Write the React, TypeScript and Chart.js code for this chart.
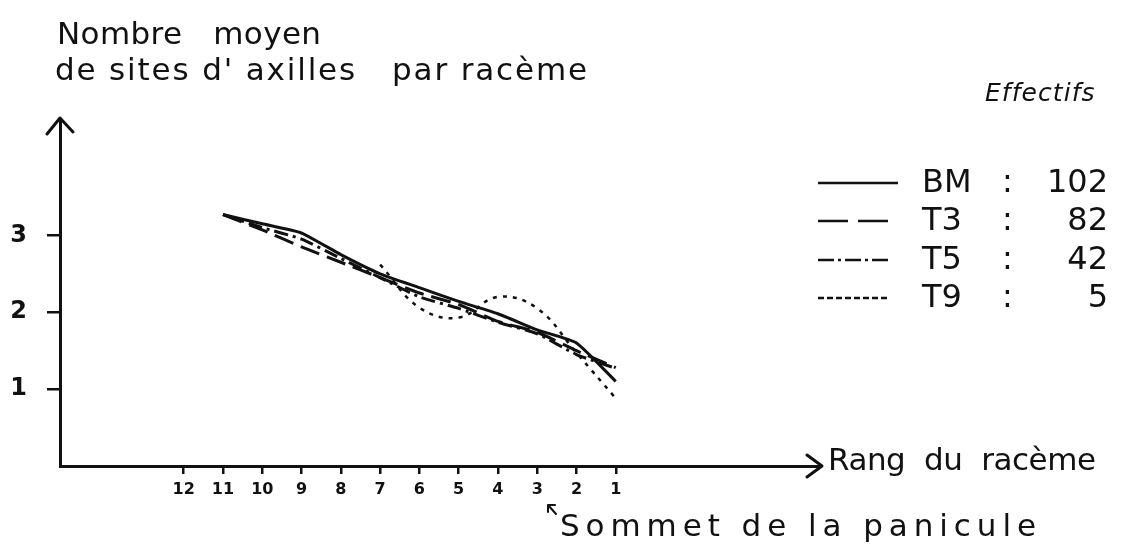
import React, { useEffect, useRef } from "react";
import { Chart, registerables } from "chart.js";

Chart.register(...registerables);

// Rang du racème (1 = sommet de la panicule)
const ranks = [11, 10, 9, 8, 7, 6, 5, 4, 3, 2, 1];
const xTickValues = [12, 11, 10, 9, 8, 7, 6, 5, 4, 3, 2, 1];
const yTickValues = [1, 2, 3];

// Nombre moyen de sites d'axilles par racème
const bmValues = [3.27, 3.15, 3.03, 2.75, 2.5, 2.32, 2.14, 1.98, 1.77, 1.6, 1.1];
const t3Values = [3.27, 3.07, 2.85, 2.65, 2.45, 2.25, 2.1, 1.88, 1.74, 1.5, 1.28];
const t5Values = [3.27, 3.1, 2.95, 2.7, 2.45, 2.2, 2.05, 1.87, 1.72, 1.45, 1.27];
const t9Values = [null, null, null, null, 2.62, 2.06, 1.93, 2.2, 2.05, 1.47, 0.88];

const seriesNames = ["BM", "T3", "T5", "T9"];
const effectifs = ["102", "82", "42", "5"];

const INK = "#111111";
const FONT = "'DejaVu Sans'";

function pts(values: (number | null)[]) {
  return ranks.map((r, i) => ({ x: r, y: values[i] }));
}

function drawFit(ctx: CanvasRenderingContext2D, text: string, x: number, y: number, width: number, font: string) {
  ctx.save();
  ctx.font = font;
  (ctx as any).letterSpacing = "0px";
  const w = ctx.measureText(text).width;
  const ls = text.length > 1 ? (width - w) / (text.length - 1) : 0;
  (ctx as any).letterSpacing = ls + "px";
  ctx.fillStyle = INK;
  ctx.textBaseline = "alphabetic";
  ctx.textAlign = "left";
  ctx.fillText(text, x, y);
  ctx.restore();
}

const decorPlugin = {
  id: "decor",
  afterDraw(chart: any) {
    const ctx: CanvasRenderingContext2D = chart.ctx;
    const area = chart.chartArea;
    ctx.save();
    ctx.strokeStyle = INK;
    ctx.lineWidth = 3;
    ctx.lineCap = "round";
    ctx.lineJoin = "round";
    // y arrow head
    ctx.beginPath();
    ctx.moveTo(area.left - 13, area.top + 14);
    ctx.lineTo(area.left, area.top - 2);
    ctx.lineTo(area.left + 13, area.top + 12);
    ctx.stroke();
    // x arrow head
    ctx.beginPath();
    ctx.moveTo(area.right - 13, area.bottom - 11);
    ctx.lineTo(area.right + 2, area.bottom);
    ctx.lineTo(area.right - 13, area.bottom + 11);
    ctx.stroke();

    // titles
    drawFit(ctx, "Nombre   moyen", 57, 44, 264, `31px ${FONT}`);
    drawFit(ctx, "de sites d' axilles   par racème", 55, 80, 532, `31px ${FONT}`);
    drawFit(ctx, "Rang  du  racème", 828, 470, 268, `31px ${FONT}`);
    drawFit(ctx, "Sommet de la panicule", 560, 536, 476, `31px ${FONT}`);
    // small arrow before "Sommet"
    ctx.lineWidth = 2;
    ctx.beginPath();
    ctx.moveTo(556, 514);
    ctx.lineTo(548, 505);
    ctx.moveTo(548, 505);
    ctx.lineTo(548, 512);
    ctx.moveTo(548, 505);
    ctx.lineTo(555, 505);
    ctx.stroke();

    // legend
    drawFit(ctx, "Effectifs", 985, 101, 110, `italic 25px ${FONT}`);

    const rowY = [183, 221, 260, 298];
    chart.data.datasets.forEach((ds: any, i: number) => {
      const y = rowY[i];
      ctx.save();
      ctx.strokeStyle = INK;
      ctx.lineWidth = 2.5;
      ctx.lineCap = "butt";
      ctx.setLineDash(ds.legendDash || []);
      ctx.beginPath();
      ctx.moveTo(818, y);
      ctx.lineTo(i === 0 ? 898 : 890, y);
      ctx.stroke();
      ctx.restore();
      ctx.font = `32px ${FONT}`;
      ctx.fillStyle = INK;
      ctx.textAlign = "left";
      ctx.fillText(seriesNames[i], 922, y + 9);
      ctx.fillText(":", 1002, y + 9);
      ctx.textAlign = "right";
      ctx.fillText(effectifs[i], 1108, y + 9);
    });
    ctx.restore();
  },
};

export default function App() {
  const ref = useRef<HTMLCanvasElement | null>(null);
  useEffect(() => {
    if (!ref.current) return;
    const common = {
      borderColor: INK,
      borderWidth: 3,
      pointRadius: 0,
      fill: false,
      spanGaps: false,
    };
    const chart = new Chart(ref.current, {
      type: "line",
      data: {
        datasets: [
          { ...common, label: "BM", data: pts(bmValues), tension: 0.15, borderDash: [], legendDash: [] } as any,
          { ...common, label: "T3", data: pts(t3Values), tension: 0.2, borderDash: [20, 8], legendDash: [30, 10] } as any,
          { ...common, label: "T5", data: pts(t5Values), tension: 0.2, borderDash: [14, 5, 3, 5], legendDash: [16, 4, 3, 4] } as any,
          { ...common, label: "T9", data: pts(t9Values), tension: 0.4, borderDash: [4, 6], borderWidth: 2.5, legendDash: [6, 3] } as any,
        ],
      },
      options: {
        responsive: false,
        animation: false,
        layout: { padding: { top: 120, right: 305, left: 0, bottom: 0 } },
        plugins: {
          legend: { display: false },
          tooltip: { enabled: false },
          title: { display: false },
        },
        scales: {
          x: {
            type: "linear",
            reverse: true,
            min: -4.2,
            max: 15.15,
            afterFit: (s: any) => {
              s.height = 88;
            },
            afterBuildTicks: (s: any) => {
              s.ticks = xTickValues.map((v) => ({ value: v }));
            },
            grid: { drawOnChartArea: false, drawTicks: true, tickLength: 8, color: INK, lineWidth: 2.5 },
            border: { display: true, color: INK, width: 3 },
            ticks: {
              color: INK,
              font: { family: "DejaVu Sans", size: 16, weight: "bold" },
              padding: 6,
              maxRotation: 0,
              autoSkip: false,
              callback: (v: any) => String(v),
            },
          },
          y: {
            type: "linear",
            min: 0,
            max: 4.5,
            afterFit: (s: any) => {
              s.width = 60;
            },
            afterBuildTicks: (s: any) => {
              s.ticks = yTickValues.map((v) => ({ value: v }));
            },
            grid: { drawOnChartArea: false, drawTicks: true, tickLength: 13, color: INK, lineWidth: 2.5 },
            border: { display: true, color: INK, width: 3 },
            ticks: {
              color: INK,
              font: { family: "DejaVu Sans", size: 24, weight: "bold" },
              padding: 20,
              callback: (v: any) => String(v),
            },
          },
        },
      } as any,
      plugins: [decorPlugin],
    });
    return () => chart.destroy();
  }, []);
  return (
    <div style={{ position: "absolute", left: 0, top: 0, width: 1125, height: 554, background: "#fff" }}>
      <canvas ref={ref} width={1125} height={554} style={{ display: "block" }} />
    </div>
  );
}
